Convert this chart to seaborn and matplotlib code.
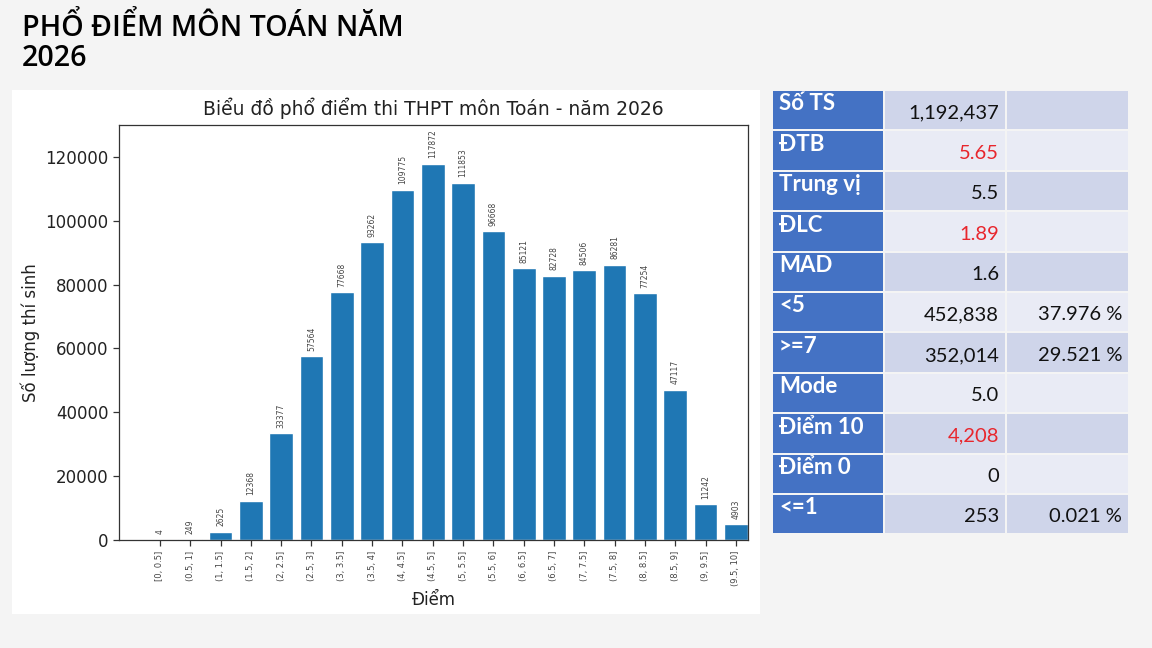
import numpy as np
import pandas as pd
import seaborn as sns
import matplotlib.pyplot as plt
from matplotlib.patches import Rectangle

# score bins and number of candidates
bins = ['[0, 0.5]', '(0.5, 1]', '(1, 1.5]', '(1.5, 2]', '(2, 2.5]', '(2.5, 3]',
        '(3, 3.5]', '(3.5, 4]', '(4, 4.5]', '(4.5, 5]', '(5, 5.5]', '(5.5, 6]',
        '(6, 6.5]', '(6.5, 7]', '(7, 7.5]', '(7.5, 8]', '(8, 8.5]', '(8.5, 9]',
        '(9, 9.5]', '(9.5, 10]']
counts = [4, 249, 2625, 12368, 33377, 57564, 77668, 93262, 109775, 117872,
          111853, 96668, 85121, 82728, 84506, 86281, 77254, 47117, 11242, 4903]
y_ticks = [0, 20000, 40000, 60000, 80000, 100000, 120000]

# summary table
stat_names = ['Số TS', 'ĐTB', 'Trung vị', 'ĐLC', 'MAD', '<5', '>=7', 'Mode',
              'Điểm 10', 'Điểm 0', '<=1']
stat_values = ['1,192,437', '5.65', '5.5', '1.89', '1.6', '452,838', '352,014',
               '5.0', '4,208', '0', '253']
stat_pct = ['', '', '', '', '', '37.976 %', '29.521 %', '', '', '', '0.021 %']
stat_red = [False, True, False, True, False, False, False, False, True, False, False]

W, H = 1152, 648
BG = '#f4f4f4'
BAR = '#1f77b4'

sns.set_theme(style='ticks')
plt.rcParams['font.family'] = ['DejaVu Sans']

fig = plt.figure(figsize=(W / 100, H / 100), dpi=100, facecolor=BG)

# white panel behind the chart
fig.patches.append(Rectangle((12 / W, 1 - 614 / H), (760 - 12) / W, (614 - 90) / H,
                             transform=fig.transFigure, facecolor='white',
                             edgecolor='none', zorder=-5))

# slide title
fig.text(22 / W, 1 - 13 / H, 'PHỔ ĐIỂM MÔN TOÁN NĂM\n2026', ha='left', va='top',
         fontsize=20.6, fontweight='semibold', family=['Open Sans', 'DejaVu Sans'],
         color='black', linespacing=1.05)

# bar chart
ax = fig.add_axes([119 / W, 1 - 540 / H, (748 - 119) / W, (540 - 125) / H])
df = pd.DataFrame({'bin': bins, 'count': counts})
sns.barplot(data=df, x='bin', y='count', color=BAR, saturation=1, width=0.78, ax=ax)
ax.bar_label(ax.containers[0], labels=[str(c) for c in counts], rotation=90,
             fontsize=5.5, padding=4, color='#444444')
ax.set_xlim(-1.35, 19.4)
ax.set_ylim(0, 130000)
ax.set_yticks(y_ticks)
ax.set_yticklabels([str(t) for t in y_ticks], fontsize=12, color='#222222')
ax.set_xticks(range(len(bins)))
ax.set_xticklabels(bins, rotation=90, fontsize=6, color='#444444')
ax.tick_params(length=4, width=0.9, color='#333333')
ax.set_xlabel('Điểm', fontsize=12, color='#222222')
ax.set_ylabel('Số lượng thí sinh', fontsize=12, color='#222222')
ax.set_title('Biểu đồ phổ điểm thi THPT môn Toán - năm 2026', fontsize=13.5,
             pad=7, color='#222222')
for sp in ax.spines.values():
    sp.set_visible(True)
    sp.set_color('#333333')
    sp.set_linewidth(0.9)

# table drawn in pixel coordinates
tx = fig.add_axes([0, 0, 1, 1], facecolor='none')
tx.set_xlim(0, W)
tx.set_ylim(H, 0)
tx.axis('off')

col_x = [773, 885, 1007]
col_w = [110, 120, 121]
row_top, row_h = 91, 40.4
tfont = ['Lato', 'DejaVu Sans']
for i, name in enumerate(stat_names):
    y0 = row_top + i * row_h
    fill = '#cfd5ea' if i % 2 == 0 else '#e9ebf5'
    tx.add_patch(Rectangle((col_x[0], y0), col_w[0], row_h - 2, facecolor='#4472c4',
                           edgecolor='none'))
    tx.add_patch(Rectangle((col_x[1], y0), col_w[1], row_h - 2, facecolor=fill,
                           edgecolor='none'))
    tx.add_patch(Rectangle((col_x[2], y0), col_w[2], row_h - 2, facecolor=fill,
                           edgecolor='none'))
    tx.text(col_x[0] + 6, y0 + 13, name, ha='left', va='center', fontsize=16,
            fontweight='bold', color='white', family=tfont)
    tx.text(col_x[1] + col_w[1] - 6, y0 + 22, stat_values[i], ha='right', va='center',
            fontsize=14.5, color='#e8262d' if stat_red[i] else '#111111', family=tfont)
    if stat_pct[i]:
        tx.text(col_x[2] + col_w[2] - 6, y0 + 22, stat_pct[i], ha='right',
                va='center', fontsize=14.5, color='#111111', family=tfont)

fig.savefig('out.png', dpi=100, facecolor=BG)
